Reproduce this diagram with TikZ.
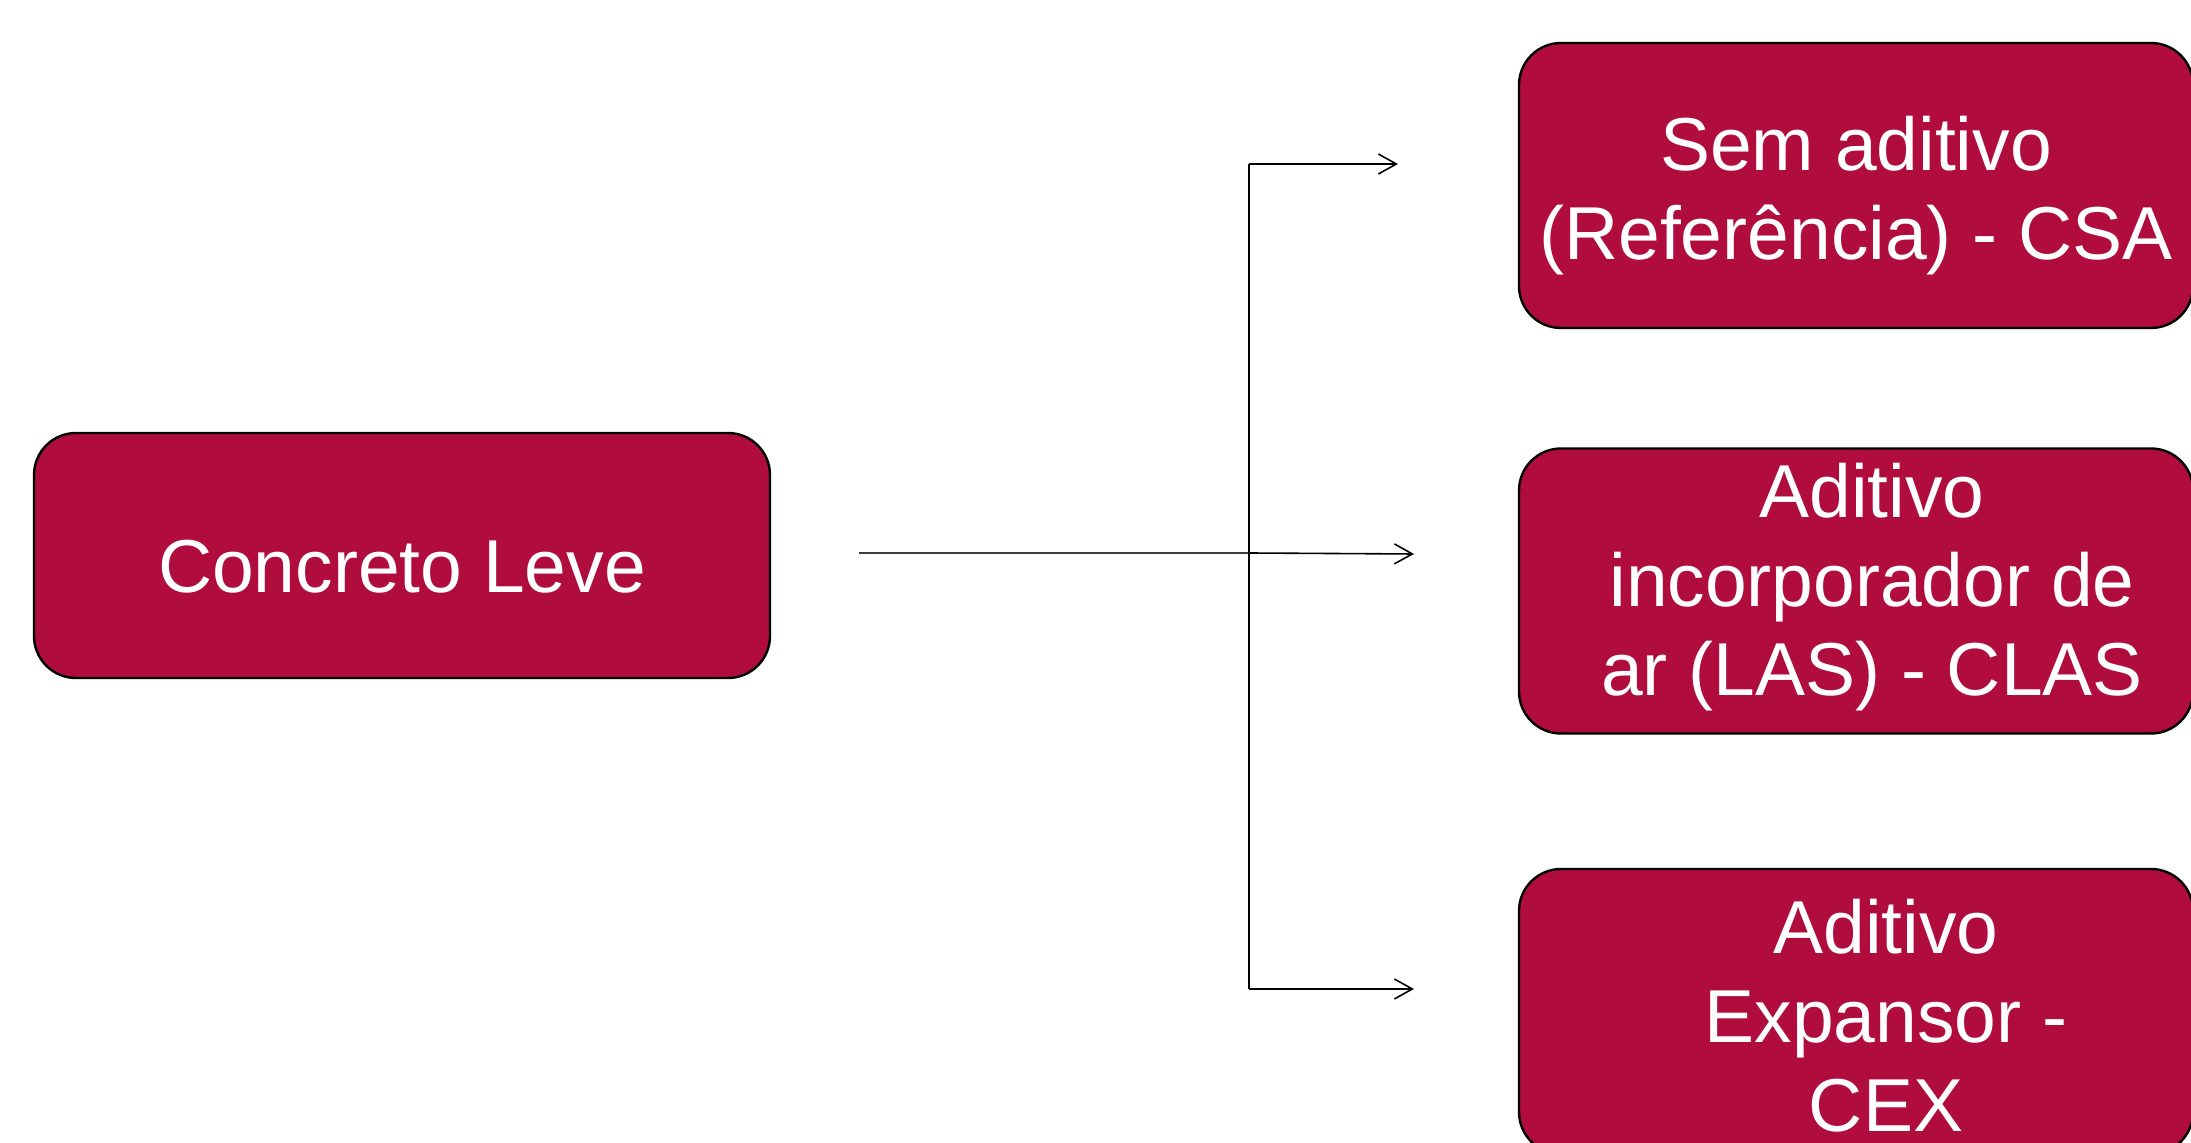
\documentclass[tikz,border=0pt]{standalone}
\usepackage{fontspec}
\setmainfont{Liberation Sans}
\usetikzlibrary{arrows.meta}
\definecolor{vinho}{RGB}{176,12,62}
\tikzset{every picture/.style={line width=0.75pt}}
\tikzset{
  caixa/.style={draw=black, line width=1.2pt, fill=vinho, rounded corners=21pt, text=white, align=center,
    font=\fontsize{37.5}{44.5}\selectfont, inner sep=0pt},
  desce/.style={text height=#1},
  seta/.style={-{Straight Barb[length=9pt,width=10pt,line width=0.8pt]}, line width=0.8pt}
}

\begin{document}
\begin{tikzpicture}[x=0.5pt,y=0.5pt,yscale=-1,xscale=1]
\useasboundingbox (0,0) rectangle (2191,1143);

%Shape: Rounded Rect [id:leve]
\node [caixa, desce=37.4pt, minimum width=368pt, minimum height=122.5pt] (leve) at (402,555.5) {Concreto Leve};
%Shape: Rounded Rect [id:csa]
\node [caixa, desce=81.9pt, minimum width=337pt, minimum height=142.5pt] (csa) at (1856,185.5) {Sem aditivo\\(Referência) - CSA};
%Shape: Rounded Rect [id:clas]
\node [caixa, desce=112.4pt, minimum width=337pt, minimum height=142.5pt] (clas) at (1856,591) {\hspace*{16pt}Aditivo\\\hspace*{16pt}incorporador de\\\hspace*{16pt}ar (LAS) - CLAS};
%Shape: Rounded Rect [id:cex]
\node [caixa, desce=120.4pt, minimum width=337pt, minimum height=142.5pt] (cex) at (1856,1011.5) {\hspace*{30pt}Aditivo\\\hspace*{30pt}Expansor -\\\hspace*{30pt}CEX};

% Coordinates
\coordinate (saida) at (859,553);
\coordinate (ramo) at (1249,553);
\coordinate (topo) at (1249,164);
\coordinate (base) at (1249,989);
\coordinate (ptcsa) at (1398,164);
\coordinate (ptclas) at (1414,554);
\coordinate (ptcex) at (1414,989);

%Straight Lines
\draw [color={rgb, 255:red, 60; green, 60; blue, 60 }]  (saida) -- (ramo) ;
\draw    (topo) -- (base) ;
\draw [seta]   (topo) -- (ptcsa) ;
\draw [seta]   (ramo) -- (ptclas) ;
\draw [seta]   (base) -- (ptcex) ;

\end{tikzpicture}
\end{document}
